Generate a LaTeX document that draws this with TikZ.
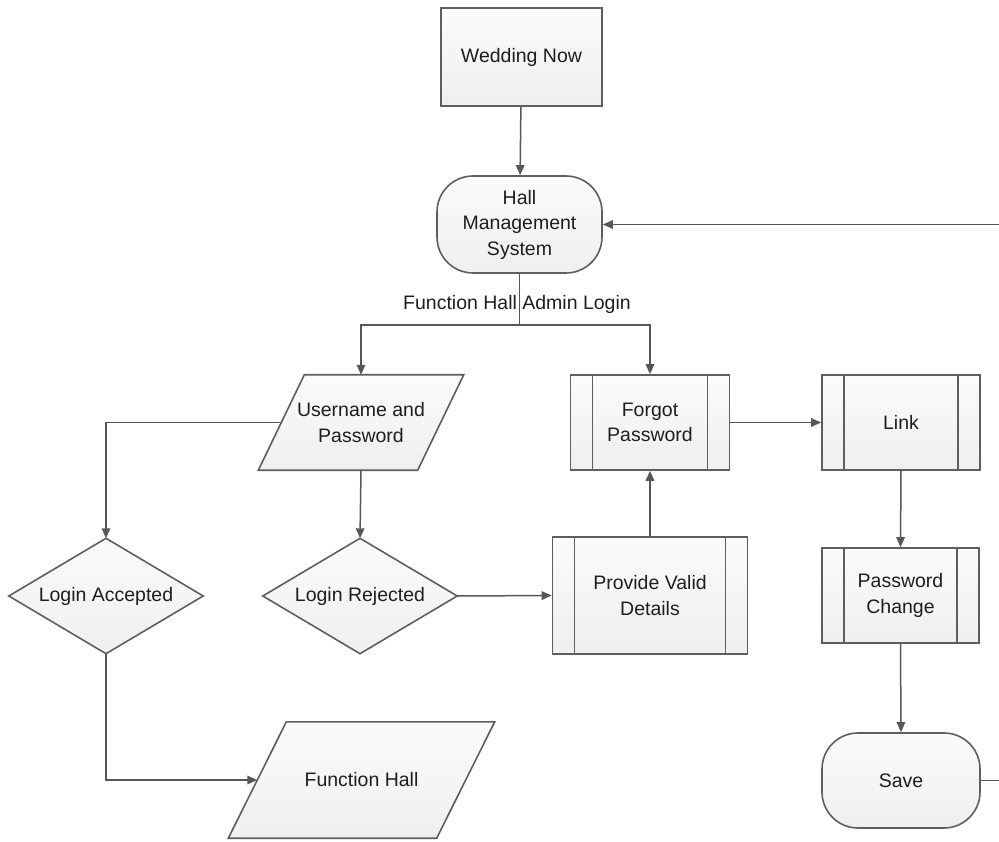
\documentclass[tikz,border=0pt]{standalone}
\usepackage{fontspec}
\setmainfont{Liberation Sans}
\usetikzlibrary{arrows.meta,calc}
\pgfdeclarelayer{background}
\pgfsetlayers{background,main}

\definecolor{edgegray}{HTML}{5E5E5E}
\definecolor{linegray}{HTML}{575757}
\definecolor{filltop}{HTML}{FBFBFB}
\definecolor{fillbot}{HTML}{EFEFEF}
\definecolor{ink}{HTML}{1E1E1E}

\tikzset{
  base/.style={font=\fontsize{19.5}{25.5}\selectfont, text=ink, align=center, inner sep=0pt},
  boxfill/.style={draw=edgegray, line width=1.6pt, top color=filltop, bottom color=fillbot},
  procbox/.style={base, boxfill, rectangle},
  termbox/.style={base, boxfill, rectangle, rounded corners=36pt},
  subbox/.style={procbox, path picture={
      \draw[edgegray, line width=1.8pt]
        ([xshift=22pt]path picture bounding box.north west) -- ([xshift=22pt]path picture bounding box.south west)
        ([xshift=-22pt]path picture bounding box.north east) -- ([xshift=-22pt]path picture bounding box.south east);
    }},
  slotbox/.style={base, rectangle},
  flow/.style={draw=linegray, line width=1.5pt, -{Triangle[length=10pt,width=8.5pt]}},
  plainlink/.style={draw=linegray, line width=1.5pt},
}

\begin{document}
\begin{tikzpicture}[x=1pt, y=-1pt]
  \useasboundingbox (0,0) rectangle (999,842);

  % process, terminator and subroutine boxes
  \node[procbox, minimum width=161pt, minimum height=98pt] (wed) at (521.5,57) {Wedding Now};
  \node[termbox, minimum width=165pt, minimum height=97pt] (hms) at (519.5,224.5) {Hall\\Management\\System};
  \node[subbox, minimum width=159pt, minimum height=95pt] (fp) at (650,422.5) {Forgot\\Password};
  \node[subbox, minimum width=158pt, minimum height=95pt] (lnk) at (901,422.5) {Link};
  \node[subbox, minimum width=195pt, minimum height=117pt] (pvd) at (650,595.5) {Provide Valid\\Details};
  \node[subbox, minimum width=157pt, minimum height=95pt] (pwc) at (900.5,595.5) {Password\\Change};
  \node[termbox, minimum width=158pt, minimum height=95pt] (save) at (901,780.5) {Save};

  % frames for the slanted and diamond shapes (outlines drawn below)
  \node[slotbox, minimum width=159pt, minimum height=95pt] (up) at (361,422.5) {Username and\\Password};
  \node[slotbox, minimum width=194pt, minimum height=115pt] (acc) at (106,596) {Login Accepted};
  \node[slotbox, minimum width=194pt, minimum height=115pt] (rej) at (360,596) {Login Rejected};
  \node[slotbox, minimum width=208pt, minimum height=116pt] (fh) at (361.5,780) {Function Hall};

  \begin{pgfonlayer}{background}
    % input/output parallelograms
    \path[boxfill] ($(up.north west)+(23,0)$) -- ($(up.north east)+(23,0)$)
      -- ($(up.south east)-(23,0)$) -- ($(up.south west)-(23,0)$) -- cycle;
    \path[boxfill] ($(fh.north west)+(29,0)$) -- ($(fh.north east)+(29,0)$)
      -- ($(fh.south east)-(29,0)$) -- ($(fh.south west)-(29,0)$) -- cycle;
    % decision diamonds
    \path[boxfill] (acc.north) -- (acc.east) -- (acc.south) -- (acc.west) -- cycle;
    \path[boxfill] (rej.north) -- (rej.east) -- (rej.south) -- (rej.west) -- cycle;
  \end{pgfonlayer}

  % connectors
  \coordinate (split) at (519.5,325);
  \coordinate (outR) at (999,780.5);
  \coordinate (inR) at (999,224.5);

  \draw[flow] (wed) -- (hms);
  \draw[plainlink] (hms.south) -- (split);
  \draw[flow] (split) -| (up.north);
  \draw[flow] (split) -| (fp.north);
  \node[base] (adminlbl) at (517,304) {Function Hall Admin Login};

  \draw[flow] (up.west) -| (acc.north);
  \draw[flow] (up.south) -- (rej.north);
  \draw[flow] (rej.east) -- (pvd.west);
  \draw[flow] (pvd.north) -- (fp.south);
  \draw[flow] (fp.east) -- (lnk.west);
  \draw[flow] (lnk.south) -- (pwc.north);
  \draw[flow] (pwc.south) -- (save.north);
  \draw[flow] (acc.south) |- (fh.west);
  \draw[plainlink] (save.east) -- (outR);
  \draw[flow] (inR) -- (hms.east);
\end{tikzpicture}
\end{document}
